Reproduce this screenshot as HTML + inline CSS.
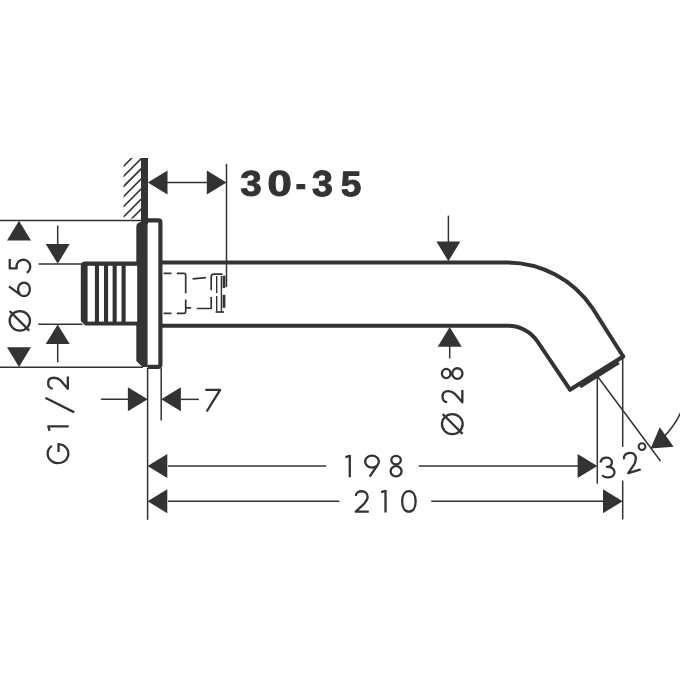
<!DOCTYPE html>
<html><head><meta charset="utf-8"><style>
html,body{margin:0;padding:0;background:#fff;}
svg{display:block;}
text{font-family:"Liberation Sans",sans-serif;fill:#333;}
</style></head><body>
<svg width="680" height="680" viewBox="0 0 680 680">
<rect width="680" height="680" fill="#fff"/>
<clipPath id="hc"><rect x="123.6" y="158" width="17.5" height="60.5"/></clipPath>
<g clip-path="url(#hc)"><line x1="120" y1="159.70" x2="150" y2="129.70" stroke="#333" stroke-width="1.6"/><line x1="120" y1="169.80" x2="150" y2="139.80" stroke="#333" stroke-width="1.6"/><line x1="120" y1="179.90" x2="150" y2="149.90" stroke="#333" stroke-width="1.6"/><line x1="120" y1="190.00" x2="150" y2="160.00" stroke="#333" stroke-width="1.6"/><line x1="120" y1="200.10" x2="150" y2="170.10" stroke="#333" stroke-width="1.6"/><line x1="120" y1="210.20" x2="150" y2="180.20" stroke="#333" stroke-width="1.6"/><line x1="120" y1="220.30" x2="150" y2="190.30" stroke="#333" stroke-width="1.6"/><line x1="120" y1="230.40" x2="150" y2="200.40" stroke="#333" stroke-width="1.6"/><line x1="120" y1="240.50" x2="150" y2="210.50" stroke="#333" stroke-width="1.6"/></g>
<rect x="141" y="158" width="7" height="66" fill="#333" rx="0"/>
<path d="M 147.5 220.4 L 158.5 220.4 Q 160.4 220.4 160.4 222.4 L 160.4 364.8 Q 160.4 366.8 158.5 366.8 L 147.5 366.8" stroke="#333" stroke-width="4.2" fill="none" />
<path d="M 142 222 Q 136.3 222 136.3 227 L 136.3 361 L 142.5 367 L 147.6 367 L 147.6 222 Z" stroke="#333" stroke-width="0" fill="#333" />
<path d="M 137 261.6 L 85.2 261.6 Q 80.8 261.6 80.8 266 L 80.8 321 L 85.2 325.6 L 137 325.6 Z" stroke="#333" stroke-width="0" fill="#333" />
<rect x="87.6" y="265.8" width="49.6" height="55.8" fill="#fff" rx="0"/>
<rect x="94.9" y="265" width="4.1" height="57" fill="#333" rx="0"/>
<rect x="104.0" y="265" width="4.1" height="57" fill="#333" rx="0"/>
<rect x="112.60000000000001" y="265" width="4.1" height="57" fill="#333" rx="0"/>
<rect x="121.55" y="265" width="4.1" height="57" fill="#333" rx="0"/>
<path d="M 160 262.4 L 506.6 262.4 A 103.5 103.5 0 0 1 592.4 308.0 L 623.2 356.5" stroke="#333" stroke-width="4" fill="none" />
<path d="M 160 325.8 L 508.0 325.8 A 35.5 35.5 0 0 1 537.5 341.5 L 570 389.7" stroke="#333" stroke-width="4" fill="none" />
<path d="M 570 389.7 L 623.2 356.5" stroke="#333" stroke-width="4.2" fill="none" stroke-linejoin="round" stroke-linecap="round"/>
<path d="M 580.07 386.95 L 618.85 362.75" stroke="#333" stroke-width="3.2" fill="none" />
<path d="M 163.6 273.3 L 171.5 273.3 M 176.8 273.3 L 184 273.3 Q 185.7 273.3 185.7 275 L 185.7 293.2 M 185.7 299.4 L 185.7 311.5 Q 185.7 313.3 184 313.3 L 176.8 313.3 M 171.5 313.3 L 163.6 313.3 M 185.7 307.8 L 191.1 307.8" stroke="#333" stroke-width="1.7" fill="none" />
<path d="M 192.6 278.9 L 206 277.6" stroke="#333" stroke-width="1.7" fill="none" />
<path d="M 196.8 308.5 L 211.2 308.5 L 211.2 297" stroke="#333" stroke-width="1.7" fill="none" />
<path d="M 211.2 290.2 L 211.2 277 Q 211.2 274.2 214 274.2 L 222.5 274.2" stroke="#333" stroke-width="1.7" fill="none" />
<path d="M 216.7 276 L 216.7 293 M 216.7 296 L 216.7 311.5 M 221.4 276 L 221.4 311.5" stroke="#333" stroke-width="1.4" fill="none" />
<path d="M 215.6 312 L 224 312" stroke="#333" stroke-width="1.7" fill="none" />
<rect x="222.6" y="275.6" width="2.8" height="12.3" fill="#333" rx="0"/>
<rect x="222.6" y="294.8" width="2.8" height="13" fill="#333" rx="0"/>
<line x1="226.50" y1="163.80" x2="226.50" y2="287.00" stroke="#333" stroke-width="1.5" />
<line x1="166.00" y1="182.50" x2="208.00" y2="182.50" stroke="#333" stroke-width="1.5" />
<polygon points="147.80,182.50 167.50,170.50 167.50,194.50" fill="#333"/>
<polygon points="226.50,182.50 206.80,194.50 206.80,170.50" fill="#333"/>
<path transform="translate(240.37 195.55) scale(0.01876 -0.01734)" d="M1065 391Q1065 193 935.0 85.0Q805 -23 565 -23Q338 -23 204.0 81.5Q70 186 47 383L333 408Q360 205 564 205Q665 205 721.0 255.0Q777 305 777 408Q777 502 709.0 552.0Q641 602 507 602H409V829H501Q622 829 683.0 878.5Q744 928 744 1020Q744 1107 695.5 1156.5Q647 1206 554 1206Q467 1206 413.5 1158.0Q360 1110 352 1022L71 1042Q93 1224 222.0 1327.0Q351 1430 559 1430Q780 1430 904.5 1330.5Q1029 1231 1029 1055Q1029 923 951.5 838.0Q874 753 728 725V721Q890 702 977.5 614.5Q1065 527 1065 391Z" fill="#333" stroke="#333" stroke-width="58.63" stroke-linejoin="round"/>
<path transform="translate(267.30 195.60) scale(0.02156 -0.01738)" d="M1055 705Q1055 348 932.5 164.0Q810 -20 565 -20Q81 -20 81 705Q81 958 134.0 1118.0Q187 1278 293.0 1354.0Q399 1430 573 1430Q823 1430 939.0 1249.0Q1055 1068 1055 705ZM773 705Q773 900 754.0 1008.0Q735 1116 693.0 1163.0Q651 1210 571 1210Q486 1210 442.5 1162.5Q399 1115 380.5 1007.5Q362 900 362 705Q362 512 381.5 403.5Q401 295 443.5 248.0Q486 201 567 201Q647 201 690.5 250.5Q734 300 753.5 409.0Q773 518 773 705Z" fill="#333" stroke="#333" stroke-width="51.02" stroke-linejoin="round"/>
<path transform="translate(295.75 195.35) scale(0.01500 -0.01639)" d="M80 409V653H600V409Z" fill="#333" stroke="#333" stroke-width="73.33" stroke-linejoin="round"/>
<path transform="translate(311.99 195.94) scale(0.01837 -0.01769)" d="M1065 391Q1065 193 935.0 85.0Q805 -23 565 -23Q338 -23 204.0 81.5Q70 186 47 383L333 408Q360 205 564 205Q665 205 721.0 255.0Q777 305 777 408Q777 502 709.0 552.0Q641 602 507 602H409V829H501Q622 829 683.0 878.5Q744 928 744 1020Q744 1107 695.5 1156.5Q647 1206 554 1206Q467 1206 413.5 1158.0Q360 1110 352 1022L71 1042Q93 1224 222.0 1327.0Q351 1430 559 1430Q780 1430 904.5 1330.5Q1029 1231 1029 1055Q1029 923 951.5 838.0Q874 753 728 725V721Q890 702 977.5 614.5Q1065 527 1065 391Z" fill="#333" stroke="#333" stroke-width="59.88" stroke-linejoin="round"/>
<path transform="translate(340.81 196.01) scale(0.01806 -0.01721)" d="M1082 469Q1082 245 942.5 112.5Q803 -20 560 -20Q348 -20 220.5 75.5Q93 171 63 352L344 375Q366 285 422.0 244.0Q478 203 563 203Q668 203 730.5 270.0Q793 337 793 463Q793 574 734.0 640.5Q675 707 569 707Q452 707 378 616H104L153 1409H1000V1200H408L385 844Q487 934 640 934Q841 934 961.5 809.0Q1082 684 1082 469Z" fill="#333" stroke="#333" stroke-width="60.92" stroke-linejoin="round"/>
<line x1="0.00" y1="220.60" x2="142.00" y2="220.60" stroke="#333" stroke-width="1.5" />
<line x1="0.00" y1="367.35" x2="143.00" y2="367.35" stroke="#333" stroke-width="1.5" />
<polygon points="19.00,220.80 31.00,240.50 7.00,240.50" fill="#333"/>
<polygon points="19.00,367.00 7.00,347.30 31.00,347.30" fill="#333"/>
<line x1="39.20" y1="263.90" x2="82.00" y2="263.90" stroke="#333" stroke-width="1.5" stroke-linecap="round"/>
<line x1="38.90" y1="324.20" x2="82.00" y2="324.20" stroke="#333" stroke-width="1.5" stroke-linecap="round"/>
<line x1="57.70" y1="225.60" x2="57.70" y2="245.00" stroke="#333" stroke-width="1.5" />
<polygon points="57.70,263.70 45.70,244.00 69.70,244.00" fill="#333"/>
<line x1="57.70" y1="343.00" x2="57.70" y2="362.30" stroke="#333" stroke-width="1.5" />
<polygon points="57.70,324.40 69.70,344.10 45.70,344.10" fill="#333"/>
<path transform="translate(20.00 266.10) rotate(-90) translate(-7.50 -11.40)" d="M 14.5 1.15 L 5.16 1.15 L 5.16 8.09 A 6.9 6.9 0 1 1 0.97 18.20" stroke="#333" stroke-width="2.3" fill="none" stroke-linejoin="round"/>
<path transform="translate(19.75 289.35) rotate(-90) translate(-7.95 -11.35)" d="M 1.15 15.60 A 6.80 5.95 0 1 0 14.75 15.60 A 6.80 5.95 0 1 0 1.15 15.60 Z M 10.9 0.6 L 2.23 12.38" stroke="#333" stroke-width="2.3" fill="none" stroke-linejoin="round"/>
<ellipse cx="19.8" cy="320.85" rx="10.15" ry="9.8" stroke="#333" stroke-width="2.3" fill="none"/>
<line x1="9.60" y1="311.00" x2="29.20" y2="330.60" stroke="#333" stroke-width="2.3" />
<path transform="translate(58.00 383.25) rotate(-90) translate(-6.65 -11.00)" d="M 1.3 5.8 C 1.3 2.5 3.9 1.15 7.0 1.15 C 10.4 1.15 12.149999999999954 3.4 12.149999999999954 6.9 C 12.149999999999954 9.4 11.4 11.4 9.9 13.2 L 1.2 20.85 L 13.299999999999955 20.85" stroke="#333" stroke-width="2.3" fill="none" stroke-linejoin="round"/>
<line x1="46.30" y1="398.30" x2="73.40" y2="411.90" stroke="#333" stroke-width="2.3" stroke-linecap="round"/>
<path transform="translate(58.00 428.05) rotate(-90) translate(-2.95 -10.70)" d="M 4.6 0 L 4.6 21.400000000000006 M 0.2 2.3 L 4.6 1.0" stroke="#333" stroke-width="2.3" fill="none" stroke-linejoin="round"/>
<path transform="translate(58.00 453.60) rotate(-90) translate(-10.70 -11.50)" d="M 18.43 5.42 A 9.550000000000017 10.35 0 1 0 20.24 12.04 L 12.3 12.04" stroke="#333" stroke-width="2.3" fill="none" stroke-linejoin="round"/>
<line x1="147.60" y1="368.00" x2="147.60" y2="519.80" stroke="#333" stroke-width="1.5" />
<line x1="161.20" y1="368.00" x2="161.20" y2="420.60" stroke="#333" stroke-width="1.5" />
<line x1="101.50" y1="399.35" x2="128.00" y2="399.35" stroke="#333" stroke-width="1.5" stroke-linecap="round"/>
<polygon points="147.60,399.35 127.90,411.35 127.90,387.35" fill="#333"/>
<line x1="181.00" y1="399.35" x2="198.80" y2="399.35" stroke="#333" stroke-width="1.5" />
<polygon points="161.20,399.35 180.90,387.35 180.90,411.35" fill="#333"/>
<path transform="translate(213.15 400.15) rotate(0) translate(-7.85 -11.35)" d="M 0 1.15 L 14.799999999999988 1.15 L 1.4 22.69999999999999" stroke="#333" stroke-width="2.3" fill="none" stroke-linejoin="round"/>
<line x1="448.40" y1="215.60" x2="448.40" y2="242.00" stroke="#333" stroke-width="1.5" />
<polygon points="448.40,261.20 436.40,241.50 460.40,241.50" fill="#333"/>
<line x1="449.70" y1="346.00" x2="449.70" y2="358.50" stroke="#333" stroke-width="1.5" />
<polygon points="449.70,327.00 461.70,346.70 437.70,346.70" fill="#333"/>
<path transform="translate(452.15 373.55) rotate(-90) translate(-6.45 -11.35)" d="M 1.85 5.40 A 4.60 4.25 0 1 0 11.05 5.40 A 4.60 4.25 0 1 0 1.85 5.40 Z M 1.15 16.55 A 5.30 5.10 0 1 0 11.75 16.55 A 5.30 5.10 0 1 0 1.15 16.55 Z" stroke="#333" stroke-width="2.3" fill="none" stroke-linejoin="round"/>
<path transform="translate(452.45 396.75) rotate(-90) translate(-6.75 -11.05)" d="M 1.3 5.8 C 1.3 2.5 3.9 1.15 7.0 1.15 C 10.4 1.15 12.35 3.4 12.35 6.9 C 12.35 9.4 11.4 11.4 9.9 13.2 L 1.2 20.950000000000024 L 13.5 20.950000000000024" stroke="#333" stroke-width="2.3" fill="none" stroke-linejoin="round"/>
<ellipse cx="452.3" cy="424.1" rx="10.35" ry="10.05" stroke="#333" stroke-width="2.3" fill="none"/>
<line x1="442.60" y1="414.00" x2="462.60" y2="433.90" stroke="#333" stroke-width="2.3" />
<line x1="168.00" y1="465.90" x2="326.20" y2="465.90" stroke="#333" stroke-width="1.5" />
<line x1="418.80" y1="465.90" x2="578.00" y2="465.90" stroke="#333" stroke-width="1.5" />
<polygon points="147.60,465.90 167.30,453.90 167.30,477.90" fill="#333"/>
<polygon points="597.30,465.90 577.60,477.90 577.60,453.90" fill="#333"/>
<line x1="168.00" y1="501.20" x2="339.40" y2="501.20" stroke="#333" stroke-width="1.5" />
<line x1="431.20" y1="501.20" x2="604.00" y2="501.20" stroke="#333" stroke-width="1.5" />
<polygon points="147.60,501.20 167.30,489.20 167.30,513.20" fill="#333"/>
<polygon points="622.70,501.20 603.00,513.20 603.00,489.20" fill="#333"/>
<path transform="translate(348.15 466.10) rotate(0) translate(-2.95 -11.20)" d="M 4.6 0 L 4.6 22.400000000000034 M 0.2 2.3 L 4.6 1.0" stroke="#333" stroke-width="2.3" fill="none" stroke-linejoin="round"/>
<path transform="translate(372.00 465.85) rotate(0) translate(-8.00 -11.45)" d="M 1.15 7.20 A 6.85 6.05 0 1 0 14.85 7.20 A 6.85 6.05 0 1 0 1.15 7.20 Z M 5.6 22.300000000000033 L 13.85 10.35" stroke="#333" stroke-width="2.3" fill="none" stroke-linejoin="round"/>
<path transform="translate(396.10 466.10) rotate(0) translate(-6.60 -11.40)" d="M 1.85 5.40 A 4.75 4.25 0 1 0 11.35 5.40 A 4.75 4.25 0 1 0 1.85 5.40 Z M 1.15 16.55 A 5.45 5.10 0 1 0 12.05 16.55 A 5.45 5.10 0 1 0 1.15 16.55 Z" stroke="#333" stroke-width="2.3" fill="none" stroke-linejoin="round"/>
<path transform="translate(361.70 501.45) rotate(0) translate(-7.10 -11.35)" d="M 1.3 5.8 C 1.3 2.5 3.9 1.15 7.0 1.15 C 10.4 1.15 13.049999999999988 3.4 13.049999999999988 6.9 C 13.049999999999988 9.4 11.4 11.4 9.9 13.2 L 1.2 21.549999999999933 L 14.199999999999989 21.549999999999933" stroke="#333" stroke-width="2.3" fill="none" stroke-linejoin="round"/>
<path transform="translate(384.00 501.20) rotate(0) translate(-3.10 -11.30)" d="M 4.6 0 L 4.6 22.600000000000023 M 0.2 2.3 L 4.6 1.0" stroke="#333" stroke-width="2.3" fill="none" stroke-linejoin="round"/>
<path transform="translate(408.90 501.35) rotate(0) translate(-7.90 -11.45)" d="M 1.15 11.45 C 1.15 5.27 3.85 1.15 7.90 1.15 C 11.95 1.15 14.65 5.27 14.65 11.45 C 14.65 17.63 11.95 21.75 7.90 21.75 C 3.85 21.75 1.15 17.63 1.15 11.45 Z" stroke="#333" stroke-width="2.3" fill="none" stroke-linejoin="round"/>
<line x1="597.30" y1="374.00" x2="597.30" y2="483.70" stroke="#333" stroke-width="1.5" />
<line x1="622.70" y1="358.00" x2="622.70" y2="446.90" stroke="#333" stroke-width="1.5" />
<line x1="622.70" y1="480.60" x2="622.70" y2="519.50" stroke="#333" stroke-width="1.5" />
<line x1="598.00" y1="377.00" x2="660.50" y2="461.00" stroke="#333" stroke-width="1.5" />
<path d="M 663.67 437.09 A 92.4 92.4 0 0 0 686.45 396.81" stroke="#333" stroke-width="1.5" fill="none" />
<polygon points="650.60,448.40 659.75,427.23 673.61,446.82" fill="#333"/>
<path transform="translate(607.60 467.50) rotate(-6) translate(-7.55 -11.10)" d="M 1.0 5.6 C 1.6 2.8 3.9 1.15 6.9 1.15 C 10.1 1.15 12.4 3.2 12.4 5.9 C 12.4 8.7 10.2 10.5 7.0 10.5 C 11.0 10.5 13.95 13.0 13.95 16.1 C 13.95 19.1 11.3 21.05 7.5 21.05 C 4.6 21.05 2.5 19.9 1.3 18.1" stroke="#333" stroke-width="2.3" fill="none" stroke-linejoin="round"/>
<path transform="translate(631.10 462.30) rotate(-17) translate(-7.10 -10.75)" d="M 1.3 5.8 C 1.3 2.5 3.9 1.15 7.0 1.15 C 10.4 1.15 13.049999999999999 3.4 13.049999999999999 6.9 C 13.049999999999999 9.4 11.4 11.4 9.9 13.2 L 1.2 20.35 L 14.2 20.35" stroke="#333" stroke-width="2.3" fill="none" stroke-linejoin="round"/>
<circle cx="642" cy="446.6" r="3.4" stroke="#333" stroke-width="2" fill="none"/>
</svg></body></html>
